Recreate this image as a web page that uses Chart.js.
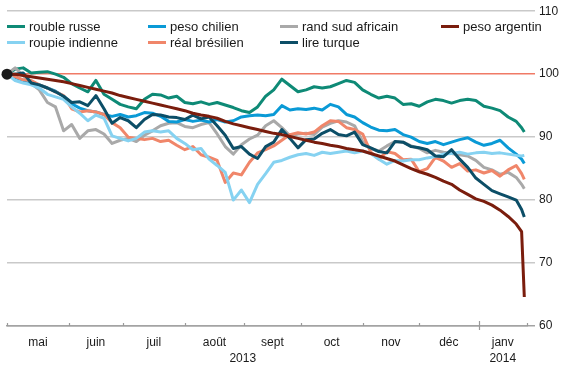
<!DOCTYPE html>
<html lang="fr">
<head>
<meta charset="utf-8">
<script src="https://cdn.jsdelivr.net/npm/chart.js@4.4.1/dist/chart.umd.min.js"></script>
<style>
  body { margin: 0; background: #fff; font-family: "Liberation Sans", Arial, sans-serif; }
  #wrap { position: relative; width: 562px; height: 366px; }
  .item { position: absolute; font-size: 13px; line-height: 15px; color: #1a1a1a; white-space: nowrap; }
  .item i { display: inline-block; width: 18px; height: 3px; margin-right: 4px; vertical-align: middle; position: relative; top: -1px; }
</style>
</head>
<body>
<div id="wrap">
  <canvas id="chart" width="562" height="366"></canvas>
  <div id="legend"></div>
</div>
<script>
// x = weekday index counted from 1 May 2013
const days = [0, 3, 6, 9, 12, 15, 18, 21, 24, 27, 30, 33, 36, 39, 42, 45, 48, 51, 54, 57,
  60, 63, 66, 69, 72, 75, 78, 81, 84, 87, 90, 93, 96, 99, 102, 105, 108, 111, 114, 117,
  120, 123, 126, 129, 132, 135, 138, 141, 144, 147, 150, 153, 156, 159, 162, 165, 168, 171, 174, 177,
  180, 183, 186, 189, 191, 192];

const roubleRusse = [100, 100.8, 101, 100.2, 100.3, 100.4, 100, 99.5, 98.5, 97.8, 97.2, 99, 96.8, 96, 95.2, 94.8, 94.5, 96, 96.8, 96.7,
  96.2, 96.5, 95.5, 95.3, 95.6, 95.2, 95.5, 95.1, 94.7, 94.2, 93.9, 94.8, 96.5, 97.5, 99.2, 98.2, 97.2, 97.5, 98, 97.8,
  98, 98.5, 99, 98.7, 97.5, 96.8, 96.2, 96.5, 96.2, 95.2, 95.3, 94.9, 95.6, 96, 95.8, 95.4, 95.8, 96, 95.8, 94.9,
  94.6, 94.2, 93.2, 92.5, 91.5, 90.8];
const pesoChilien = [100, 99.5, 99, 98.8, 98.3, 97.8, 97.3, 96.5, 95.3, 94.6, 94.2, 94, 93.6, 93.3, 93.6, 93.2, 93.4, 93.9, 93.8, 93.3,
  92.5, 92.4, 92.8, 92.5, 92.7, 92.4, 92.8, 92.4, 92.6, 93.2, 93.4, 93.5, 93.4, 93.6, 95, 94.3, 94.5, 94.4, 94.6, 94.3,
  95.2, 94.8, 93.6, 93.2, 92.3, 91.6, 91.1, 91, 91.2, 90.4, 90, 89.3, 89, 89.3, 88.8, 89.2, 89.6, 89.9, 89.2, 88.7,
  89, 89.5, 88.3, 87.3, 86.5, 85.8];
const randSudAfricain = [100, 101, 99.8, 98.5, 97.5, 95.5, 94.8, 91, 92, 89.8, 91, 91.2, 90.5, 89, 89.5, 89.8, 89.3, 90.3, 91, 91.8,
  92.2, 92.3, 91.7, 91.5, 92, 92.3, 90.5, 88.5, 87.3, 88.8, 89.7, 90.3, 91.8, 92.6, 91.5, 90.2, 90.5, 90.6, 90.4, 91.6,
  92.2, 92.6, 92.4, 91.8, 89.3, 88.2, 87.8, 88.6, 89.3, 89.2, 88.6, 88.2, 87.5, 87.9, 87.6, 87.4, 87.2, 87, 86.3, 85.2,
  84.8, 84.1, 84.4, 83.6, 82.5, 81.8];
const pesoArgentin = [100, 100, 99.8, 99.6, 99.4, 99.2, 99, 98.8, 98.5, 98.2, 97.9, 97.6, 97.3, 97, 96.6, 96.3, 96, 95.7, 95.4, 95.1,
  94.8, 94.5, 94.2, 93.8, 93.5, 93.3, 93, 92.5, 92.1, 91.8, 91.5, 91.2, 90.9, 90.6, 90.4, 90.1, 89.8, 89.5, 89.2, 89,
  88.7, 88.5, 88.2, 88, 87.8, 87.4, 87, 86.6, 86.2, 85.6, 85, 84.5, 84.1, 83.6, 83, 82.5, 81.6, 80.9, 80.2, 79.8,
  79.2, 78.4, 77.4, 76.2, 75, 64.6];
const roupieIndienne = [100, 99, 98.6, 98.3, 97.8, 96.8, 96.4, 96, 94.8, 93.8, 92.6, 93.5, 93, 90.2, 89.8, 89.4, 89.8, 90.8, 91, 90.8,
  91, 89.8, 89, 88, 88.2, 86.5, 85.5, 84.4, 80, 81.6, 79.6, 82.5, 84.2, 86, 86.3, 86.8, 87.2, 87.4, 87.1, 87.6,
  87.4, 87.6, 87.8, 87.5, 87.8, 87.4, 86.5, 85.7, 86.3, 86.2, 86.4, 86.4, 86.7, 86.9, 87.3, 87.4, 87.6, 87.3, 87.5, 87.6,
  87.4, 87.5, 87.3, 87.1, 87, 87.1];
const realBresilien = [100, 99.6, 99.1, 99, 98.3, 97.8, 97.2, 96.6, 94.5, 94, 94.2, 94, 93.6, 92.3, 91.5, 90, 89.8, 89.6, 89.8, 89.3,
  89.5, 88.7, 88, 88.5, 87.2, 86.8, 86.3, 82.8, 84.3, 84, 86, 87.5, 88, 88.6, 89.5, 90.4, 90.7, 90.5, 90.8, 91.8,
  92.6, 92.5, 91.5, 91.2, 90.5, 87.6, 86.5, 87.7, 87.4, 86.4, 86.5, 84.5, 85, 86.8, 86.2, 85.2, 85.8, 84.6, 84.8, 84.3,
  84.7, 83.8, 84.8, 85.5, 84.2, 83.3];
const lireTurque = [100, 100, 100.2, 98.6, 98.3, 97.8, 97.2, 96.5, 95.5, 95.6, 95, 96.6, 94.5, 92.2, 93.1, 92.6, 91.5, 92.8, 93.6, 93.5,
  93.2, 93.1, 92.8, 93.5, 92.9, 93.2, 91.8, 90.3, 88.2, 88.5, 87.3, 86.6, 88.5, 89.2, 91.2, 89.8, 88.3, 89.6, 89.7, 90.6,
  91.2, 90.4, 90.2, 90.8, 88.8, 88.3, 87.7, 87.5, 89.3, 89.2, 88.5, 88.3, 88, 87, 86.9, 88, 86.5, 85.2, 83.5, 82.5,
  81.5, 81, 80.5, 80, 78.5, 77.3];

// axis labels
const monthNames = ['mai', 'juin', 'juil', 'août', 'sept', 'oct', 'nov', 'déc', 'janv'];
const monthMid = [11.5, 33, 54.5, 77, 98.5, 120.5, 142.5, 164, 184];
const monthStarts = [0, 23, 43, 66, 88, 109, 132, 153, 175, 193];
const yearNames = ['2013', '2014'];
const yearMid = [87.5, 184];

const pts = vals => vals.map((v, i) => ({ x: days[i], y: v }));

const series = [
  { label: 'rouble russe', data: roubleRusse, color: '#0e8a76' },
  { label: 'peso chilien', data: pesoChilien, color: '#0a9ad6' },
  { label: 'rand sud africain', data: randSudAfricain, color: '#a9a9a9' },
  { label: 'peso argentin', data: pesoArgentin, color: '#7a1d0d' },
  { label: 'roupie indienne', data: roupieIndienne, color: '#86d2f1' },
  { label: 'réal brésilien', data: realBresilien, color: '#f0866a' },
  { label: 'lire turque', data: lireTurque, color: '#0c4e67' },
];
// drawing order: first one in the list ends on top
const drawOrder = ['peso argentin', 'lire turque', 'roupie indienne', 'réal brésilien', 'peso chilien', 'rand sud africain', 'rouble russe'];

const datasets = [{
  label: 'start', data: [{ x: 0, y: 100 }], showLine: false, pointRadius: 5.5,
  pointBackgroundColor: '#1b1b1b', pointBorderWidth: 0, clip: false
}];
drawOrder.forEach(name => {
  const s = series.find(d => d.label === name);
  datasets.push({
    label: s.label, data: pts(s.data), borderColor: s.color, borderWidth: 3,
    pointRadius: 0, tension: 0, borderJoinStyle: 'round', fill: false
  });
});

// small upward ticks on the time axis
const monthTicks = {
  id: 'monthTicks',
  afterDraw(chart) {
    const { ctx, scales: { x } } = chart;
    const y0 = chart.chartArea.bottom;
    ctx.save();
    ctx.strokeStyle = '#9a9a9a';
    ctx.lineWidth = 1.2;
    monthStarts.forEach((v, i) => {
      const px = Math.round(x.getPixelForValue(v)) + 0.5;
      const big = i === 8;
      ctx.beginPath();
      ctx.moveTo(px, y0 - (big ? 5 : 3));
      ctx.lineTo(px, y0 + (big ? 4 : 0));
      ctx.stroke();
    });
    ctx.restore();
  }
};

Chart.defaults.font.family = '"Liberation Sans", Arial, sans-serif';
Chart.defaults.color = '#1a1a1a';

new Chart(document.getElementById('chart'), {
  type: 'line',
  data: { datasets },
  plugins: [monthTicks],
  options: {
    responsive: false,
    animation: false,
    layout: { padding: { left: 7, right: 3, top: 6, bottom: 0 } },
    plugins: { legend: { display: false }, tooltip: { enabled: false } },
    scales: {
      x: {
        type: 'linear', min: 0, max: 193, position: 'bottom',
        afterBuildTicks: s => { s.ticks = monthMid.map(v => ({ value: v })); },
        afterFit: s => { s.height = 23; },
        ticks: { autoSkip: false, maxRotation: 0, padding: 9, font: { size: 12 },
          callback: (v, i) => monthNames[i] },
        grid: { display: false, drawTicks: false, tickLength: 0 },
        border: { display: true, color: '#a3a3a3', width: 1.5 }
      },
      xYear: {
        type: 'linear', min: 0, max: 193, position: 'bottom',
        afterBuildTicks: s => { s.ticks = yearMid.map(v => ({ value: v })); },
        afterFit: s => { s.height = 17; },
        ticks: { autoSkip: false, maxRotation: 0, padding: 2, font: { size: 12 },
          callback: (v, i) => yearNames[i] },
        grid: { display: false, drawTicks: false, tickLength: 0 },
        border: { display: false }
      },
      y: {
        position: 'right', min: 60, max: 110,
        afterFit: s => { s.width = 32; },
        ticks: { stepSize: 10, padding: 4, font: { size: 12 } },
        grid: {
          color: c => c.tick.value === 100 ? '#f07a66' : (c.tick.value === 60 ? '#a3a3a3' : '#c9c9c9'),
          lineWidth: 1.5, tickLength: 8
        },
        border: { display: false }
      }
    }
  }
});

// legend laid out in four columns like the original
const legendCols = [7, 148, 280, 441];
const legendRows = [18.5, 34.5];
const legendOrder = ['rouble russe', 'peso chilien', 'rand sud africain', 'peso argentin',
  'roupie indienne', 'réal brésilien', 'lire turque'];
const legend = document.getElementById('legend');
legendOrder.forEach((name, i) => {
  const s = series.find(d => d.label === name);
  const el = document.createElement('div');
  el.className = 'item';
  el.style.left = legendCols[i % 4] + 'px';
  el.style.top = legendRows[Math.floor(i / 4)] + 'px';
  el.innerHTML = '<i style="background:' + s.color + '"></i>';
  el.appendChild(document.createTextNode(name));
  legend.appendChild(el);
});
</script>
</body>
</html>
